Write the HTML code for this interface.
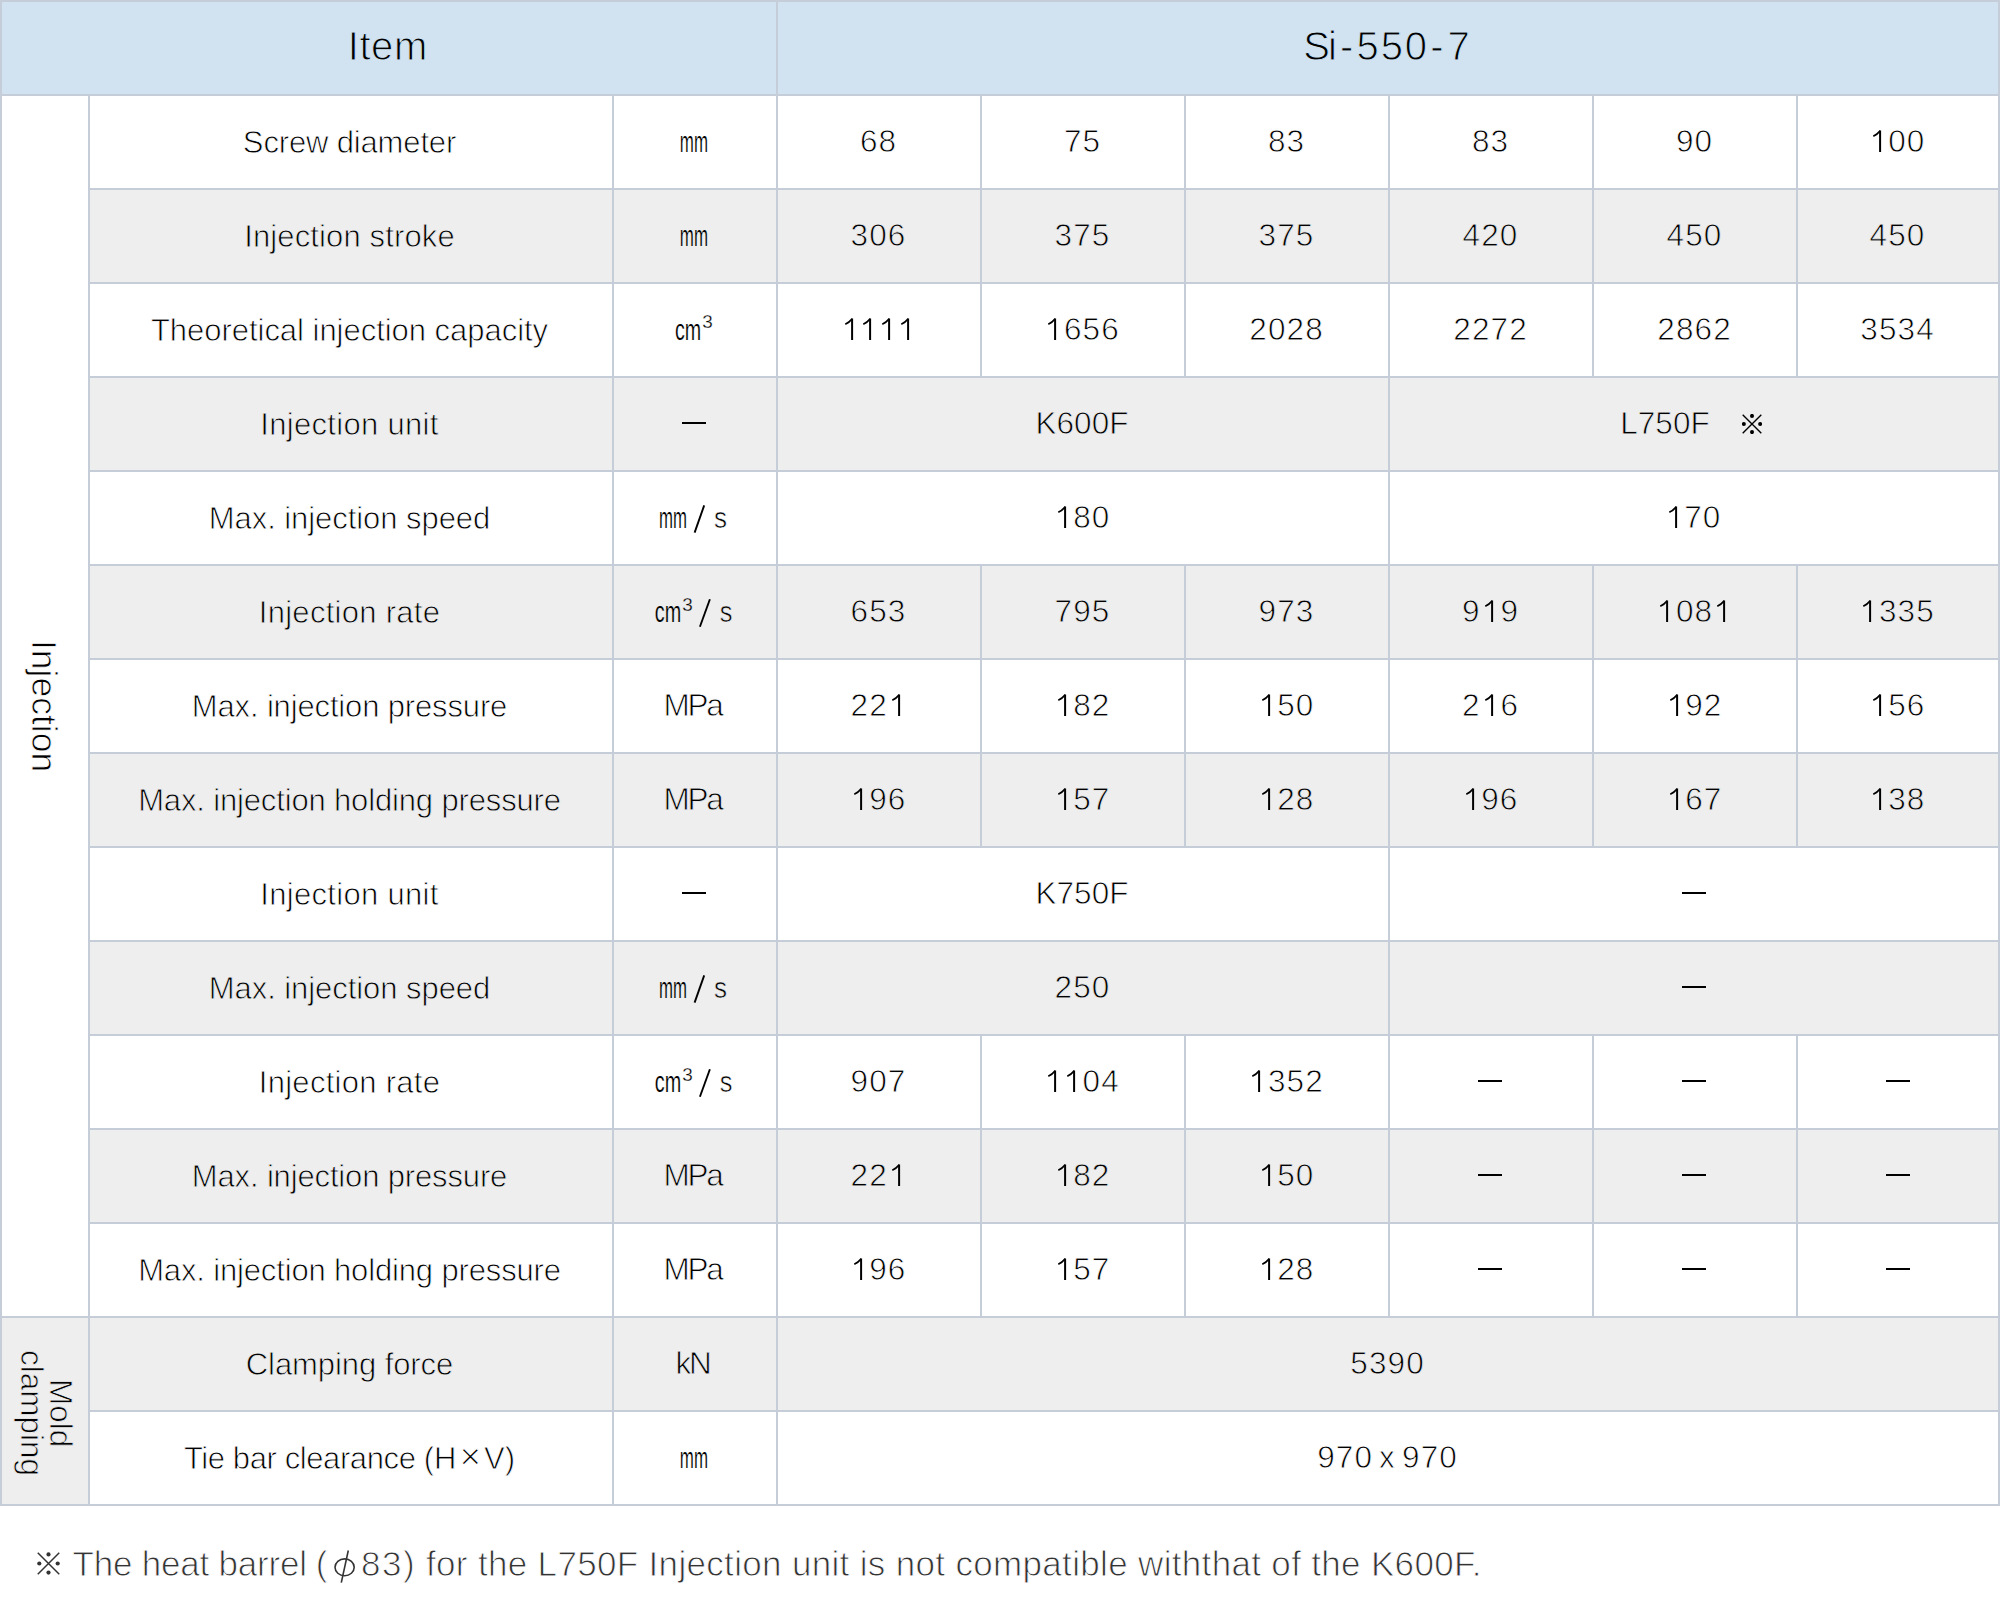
<!DOCTYPE html>
<html><head><meta charset="utf-8"><title>Si-550-7</title><style>
html,body{margin:0;padding:0}
body{width:2000px;height:1620px;background:#fff;position:relative;overflow:hidden;font-family:"Liberation Sans",sans-serif;color:#000}
.t{position:absolute;left:0;top:0;width:2000px;height:1506px;background:#c5ced8}
.c{position:absolute;display:flex;align-items:center;justify-content:center;font-size:30px;white-space:nowrap;line-height:1;box-sizing:border-box}
.bw{background:#ffffff;-webkit-text-stroke:0.8px #ffffff}
.bg{background:#eeeeee;-webkit-text-stroke:0.8px #eeeeee}
.bh{background:#d1e3f1;-webkit-text-stroke:1px #d1e3f1}
.h{font-size:40px;padding-bottom:5px}
.hs2{padding-right:3px}
.hi{letter-spacing:0.6px;text-indent:0.6px;padding-right:3px}
.nm{font-size:31px;letter-spacing:-0.2px;padding-right:3px}
.n{font-size:31.5px;letter-spacing:1.1px;text-indent:1.1px;padding-right:2px}
.k{font-size:31.5px;padding-right:2px}
.kl{padding-right:6px}
.ut{font-size:31.5px;letter-spacing:-2.2px;padding-right:5px}
.us{position:absolute;left:0;top:0}
.one{position:relative;color:transparent;-webkit-text-stroke:0;letter-spacing:0}
.o1{position:absolute;left:0;bottom:calc(0.212em - 1px)}
.dash{display:inline-block;width:24px;height:2px;background:#000;position:relative;top:-1px;left:-1px}
.d6 .dash{left:0}
.sp{display:inline-block;width:32px}
.kome{display:inline-block;vertical-align:-1px}
.v1{writing-mode:vertical-rl;font-size:35.5px;line-height:1;position:relative;left:-2px}
.v2{writing-mode:vertical-rl;font-size:31.5px;line-height:28.5px;text-align:center;padding-top:5px;position:relative;left:1px}
.x{margin:0 3px;font-size:37px;line-height:0;position:relative;top:0px;-webkit-text-stroke-width:1.1px}
.xx{margin:0 5px}
.fn{position:absolute;top:1546.1px;font-size:35px;color:#333;white-space:nowrap;line-height:1;-webkit-text-stroke:0.9px #fff}
.fk{position:absolute;left:36.5px;top:1552.1px}
</style></head><body>
<div class="t">
<div class="c bh h hi" style="left:2px;top:2px;width:774px;height:92px">Item</div>
<div class="c bh h hs2" style="left:778px;top:2px;width:1220px;height:92px"><span style="letter-spacing:-1.88px">S</span><span style="letter-spacing:2.89px">i</span><span style="letter-spacing:3.26px">-</span><span style="letter-spacing:2.0px">5</span><span style="letter-spacing:1.71px">5</span><span style="letter-spacing:3.22px">0</span><span style="letter-spacing:3.95px">-</span><span style="letter-spacing:0px">7</span></div>
<div class="c bw nm" style="left:90px;top:96px;width:522px;height:92px"><span style="letter-spacing:-0.15px">Screw diameter</span></div>
<div class="c bw u" style="left:614px;top:96px;width:162px;height:92px"><svg class="us" width="162" height="92" font-family="Liberation Sans"><text transform="translate(65.87,56.00) scale(0.5746,1)" font-size="29.5" stroke="#ffffff" stroke-width="0.2" vector-effect="non-scaling-stroke">mm</text></svg></div>
<div class="c bw n" style="left:778px;top:96px;width:202px;height:92px">68</div>
<div class="c bw n" style="left:982px;top:96px;width:202px;height:92px">75</div>
<div class="c bw n" style="left:1186px;top:96px;width:202px;height:92px">83</div>
<div class="c bw n" style="left:1390px;top:96px;width:202px;height:92px">83</div>
<div class="c bw n" style="left:1594px;top:96px;width:202px;height:92px">90</div>
<div class="c bw n d6" style="left:1798px;top:96px;width:200px;height:92px"><span class="one">1<svg class="o1" width="18" height="22" viewBox="0 0 18 22" fill="none" stroke="#000"><path d="M11.1 0.5V22" stroke-width="2"/><path d="M11.2 0.8C9.6 2.9 7.2 4.9 4.3 6.2" stroke-width="1.8"/></svg></span>00</div>
<div class="c bg nm" style="left:90px;top:190px;width:522px;height:92px"><span style="letter-spacing:0.13px">Injection stroke</span></div>
<div class="c bg u" style="left:614px;top:190px;width:162px;height:92px"><svg class="us" width="162" height="92" font-family="Liberation Sans"><text transform="translate(65.87,56.00) scale(0.5746,1)" font-size="29.5" stroke="#eeeeee" stroke-width="0.2" vector-effect="non-scaling-stroke">mm</text></svg></div>
<div class="c bg n" style="left:778px;top:190px;width:202px;height:92px">306</div>
<div class="c bg n" style="left:982px;top:190px;width:202px;height:92px">375</div>
<div class="c bg n" style="left:1186px;top:190px;width:202px;height:92px">375</div>
<div class="c bg n" style="left:1390px;top:190px;width:202px;height:92px">420</div>
<div class="c bg n" style="left:1594px;top:190px;width:202px;height:92px">450</div>
<div class="c bg n d6" style="left:1798px;top:190px;width:200px;height:92px">450</div>
<div class="c bw nm" style="left:90px;top:284px;width:522px;height:92px"><span style="letter-spacing:-0.03px">Theoretical injection capacity</span></div>
<div class="c bw u" style="left:614px;top:284px;width:162px;height:92px"><svg class="us" width="162" height="92" font-family="Liberation Sans"><text transform="translate(60.91,55.90) scale(0.6680,1)" font-size="29.5" stroke="#ffffff" stroke-width="0.2" vector-effect="non-scaling-stroke">cm</text><text transform="translate(88.18,44.40) scale(1.0000,1)" font-size="18.9" stroke="#ffffff" stroke-width="0.3">3</text></svg></div>
<div class="c bw n" style="left:778px;top:284px;width:202px;height:92px"><span class="one">1<svg class="o1" width="18" height="22" viewBox="0 0 18 22" fill="none" stroke="#000"><path d="M11.1 0.5V22" stroke-width="2"/><path d="M11.2 0.8C9.6 2.9 7.2 4.9 4.3 6.2" stroke-width="1.8"/></svg></span><span class="one">1<svg class="o1" width="18" height="22" viewBox="0 0 18 22" fill="none" stroke="#000"><path d="M11.1 0.5V22" stroke-width="2"/><path d="M11.2 0.8C9.6 2.9 7.2 4.9 4.3 6.2" stroke-width="1.8"/></svg></span><span class="one">1<svg class="o1" width="18" height="22" viewBox="0 0 18 22" fill="none" stroke="#000"><path d="M11.1 0.5V22" stroke-width="2"/><path d="M11.2 0.8C9.6 2.9 7.2 4.9 4.3 6.2" stroke-width="1.8"/></svg></span><span class="one">1<svg class="o1" width="18" height="22" viewBox="0 0 18 22" fill="none" stroke="#000"><path d="M11.1 0.5V22" stroke-width="2"/><path d="M11.2 0.8C9.6 2.9 7.2 4.9 4.3 6.2" stroke-width="1.8"/></svg></span></div>
<div class="c bw n" style="left:982px;top:284px;width:202px;height:92px"><span class="one">1<svg class="o1" width="18" height="22" viewBox="0 0 18 22" fill="none" stroke="#000"><path d="M11.1 0.5V22" stroke-width="2"/><path d="M11.2 0.8C9.6 2.9 7.2 4.9 4.3 6.2" stroke-width="1.8"/></svg></span>656</div>
<div class="c bw n" style="left:1186px;top:284px;width:202px;height:92px">2028</div>
<div class="c bw n" style="left:1390px;top:284px;width:202px;height:92px">2272</div>
<div class="c bw n" style="left:1594px;top:284px;width:202px;height:92px">2862</div>
<div class="c bw n d6" style="left:1798px;top:284px;width:200px;height:92px">3534</div>
<div class="c bg nm" style="left:90px;top:378px;width:522px;height:92px"><span style="letter-spacing:0.32px">Injection unit</span></div>
<div class="c bg u" style="left:614px;top:378px;width:162px;height:92px"><span class="dash"></span></div>
<div class="c bg k" style="left:778px;top:378px;width:610px;height:92px">K600F</div>
<div class="c bg k kl d6" style="left:1390px;top:378px;width:608px;height:92px">L750F<span class='sp'></span><svg class="kome" width="20" height="20" viewBox="0 0 20 20"><path d="M0.7 0.7L19.3 19.3M19.3 0.7L0.7 19.3" stroke="#000" stroke-width="1.4" fill="none"/><g fill="#000"><circle cx="10" cy="1.9" r="2"/><circle cx="10" cy="18.1" r="2"/><circle cx="1.9" cy="10" r="2"/><circle cx="18.1" cy="10" r="2"/></g></svg></div>
<div class="c bw nm" style="left:90px;top:472px;width:522px;height:92px"><span style="letter-spacing:-0.06px">Max. injection speed</span></div>
<div class="c bw u" style="left:614px;top:472px;width:162px;height:92px"><svg class="us" width="162" height="92" font-family="Liberation Sans"><text transform="translate(44.98,55.90) scale(0.5700,1)" font-size="29.5" stroke="#ffffff" stroke-width="0.2" vector-effect="non-scaling-stroke">mm</text><line x1="80.6" y1="60.6" x2="90.2" y2="33.4" stroke="#000" stroke-width="1.9"/><text transform="translate(99.97,55.70) scale(0.8860,1)" font-size="29.5" stroke="#ffffff" stroke-width="0.6">s</text></svg></div>
<div class="c bw n" style="left:778px;top:472px;width:610px;height:92px"><span class="one">1<svg class="o1" width="18" height="22" viewBox="0 0 18 22" fill="none" stroke="#000"><path d="M11.1 0.5V22" stroke-width="2"/><path d="M11.2 0.8C9.6 2.9 7.2 4.9 4.3 6.2" stroke-width="1.8"/></svg></span>80</div>
<div class="c bw n d6" style="left:1390px;top:472px;width:608px;height:92px"><span class="one">1<svg class="o1" width="18" height="22" viewBox="0 0 18 22" fill="none" stroke="#000"><path d="M11.1 0.5V22" stroke-width="2"/><path d="M11.2 0.8C9.6 2.9 7.2 4.9 4.3 6.2" stroke-width="1.8"/></svg></span>70</div>
<div class="c bg nm" style="left:90px;top:566px;width:522px;height:92px"><span style="letter-spacing:0.28px">Injection rate</span></div>
<div class="c bg u" style="left:614px;top:566px;width:162px;height:92px"><svg class="us" width="162" height="92" font-family="Liberation Sans"><text transform="translate(40.76,55.50) scale(0.6726,1)" font-size="29.5" stroke="#eeeeee" stroke-width="0.2" vector-effect="non-scaling-stroke">cm</text><text transform="translate(68.18,44.50) scale(1.0000,1)" font-size="18.9" stroke="#eeeeee" stroke-width="0.3">3</text><line x1="85.9" y1="60.8" x2="95.9" y2="33.2" stroke="#000" stroke-width="1.9"/><text transform="translate(105.68,55.70) scale(0.8620,1)" font-size="29.5" stroke="#eeeeee" stroke-width="0.6">s</text></svg></div>
<div class="c bg n" style="left:778px;top:566px;width:202px;height:92px">653</div>
<div class="c bg n" style="left:982px;top:566px;width:202px;height:92px">795</div>
<div class="c bg n" style="left:1186px;top:566px;width:202px;height:92px">973</div>
<div class="c bg n" style="left:1390px;top:566px;width:202px;height:92px">9<span class="one">1<svg class="o1" width="18" height="22" viewBox="0 0 18 22" fill="none" stroke="#000"><path d="M11.1 0.5V22" stroke-width="2"/><path d="M11.2 0.8C9.6 2.9 7.2 4.9 4.3 6.2" stroke-width="1.8"/></svg></span>9</div>
<div class="c bg n" style="left:1594px;top:566px;width:202px;height:92px"><span class="one">1<svg class="o1" width="18" height="22" viewBox="0 0 18 22" fill="none" stroke="#000"><path d="M11.1 0.5V22" stroke-width="2"/><path d="M11.2 0.8C9.6 2.9 7.2 4.9 4.3 6.2" stroke-width="1.8"/></svg></span>08<span class="one">1<svg class="o1" width="18" height="22" viewBox="0 0 18 22" fill="none" stroke="#000"><path d="M11.1 0.5V22" stroke-width="2"/><path d="M11.2 0.8C9.6 2.9 7.2 4.9 4.3 6.2" stroke-width="1.8"/></svg></span></div>
<div class="c bg n d6" style="left:1798px;top:566px;width:200px;height:92px"><span class="one">1<svg class="o1" width="18" height="22" viewBox="0 0 18 22" fill="none" stroke="#000"><path d="M11.1 0.5V22" stroke-width="2"/><path d="M11.2 0.8C9.6 2.9 7.2 4.9 4.3 6.2" stroke-width="1.8"/></svg></span>335</div>
<div class="c bw nm" style="left:90px;top:660px;width:522px;height:92px"><span style="letter-spacing:-0.15px">Max. injection pressure</span></div>
<div class="c bw u ut" style="left:614px;top:660px;width:162px;height:92px">MPa</div>
<div class="c bw n" style="left:778px;top:660px;width:202px;height:92px">22<span class="one">1<svg class="o1" width="18" height="22" viewBox="0 0 18 22" fill="none" stroke="#000"><path d="M11.1 0.5V22" stroke-width="2"/><path d="M11.2 0.8C9.6 2.9 7.2 4.9 4.3 6.2" stroke-width="1.8"/></svg></span></div>
<div class="c bw n" style="left:982px;top:660px;width:202px;height:92px"><span class="one">1<svg class="o1" width="18" height="22" viewBox="0 0 18 22" fill="none" stroke="#000"><path d="M11.1 0.5V22" stroke-width="2"/><path d="M11.2 0.8C9.6 2.9 7.2 4.9 4.3 6.2" stroke-width="1.8"/></svg></span>82</div>
<div class="c bw n" style="left:1186px;top:660px;width:202px;height:92px"><span class="one">1<svg class="o1" width="18" height="22" viewBox="0 0 18 22" fill="none" stroke="#000"><path d="M11.1 0.5V22" stroke-width="2"/><path d="M11.2 0.8C9.6 2.9 7.2 4.9 4.3 6.2" stroke-width="1.8"/></svg></span>50</div>
<div class="c bw n" style="left:1390px;top:660px;width:202px;height:92px">2<span class="one">1<svg class="o1" width="18" height="22" viewBox="0 0 18 22" fill="none" stroke="#000"><path d="M11.1 0.5V22" stroke-width="2"/><path d="M11.2 0.8C9.6 2.9 7.2 4.9 4.3 6.2" stroke-width="1.8"/></svg></span>6</div>
<div class="c bw n" style="left:1594px;top:660px;width:202px;height:92px"><span class="one">1<svg class="o1" width="18" height="22" viewBox="0 0 18 22" fill="none" stroke="#000"><path d="M11.1 0.5V22" stroke-width="2"/><path d="M11.2 0.8C9.6 2.9 7.2 4.9 4.3 6.2" stroke-width="1.8"/></svg></span>92</div>
<div class="c bw n d6" style="left:1798px;top:660px;width:200px;height:92px"><span class="one">1<svg class="o1" width="18" height="22" viewBox="0 0 18 22" fill="none" stroke="#000"><path d="M11.1 0.5V22" stroke-width="2"/><path d="M11.2 0.8C9.6 2.9 7.2 4.9 4.3 6.2" stroke-width="1.8"/></svg></span>56</div>
<div class="c bg nm" style="left:90px;top:754px;width:522px;height:92px"><span style="letter-spacing:-0.15px">Max. injection holding pressure</span></div>
<div class="c bg u ut" style="left:614px;top:754px;width:162px;height:92px">MPa</div>
<div class="c bg n" style="left:778px;top:754px;width:202px;height:92px"><span class="one">1<svg class="o1" width="18" height="22" viewBox="0 0 18 22" fill="none" stroke="#000"><path d="M11.1 0.5V22" stroke-width="2"/><path d="M11.2 0.8C9.6 2.9 7.2 4.9 4.3 6.2" stroke-width="1.8"/></svg></span>96</div>
<div class="c bg n" style="left:982px;top:754px;width:202px;height:92px"><span class="one">1<svg class="o1" width="18" height="22" viewBox="0 0 18 22" fill="none" stroke="#000"><path d="M11.1 0.5V22" stroke-width="2"/><path d="M11.2 0.8C9.6 2.9 7.2 4.9 4.3 6.2" stroke-width="1.8"/></svg></span>57</div>
<div class="c bg n" style="left:1186px;top:754px;width:202px;height:92px"><span class="one">1<svg class="o1" width="18" height="22" viewBox="0 0 18 22" fill="none" stroke="#000"><path d="M11.1 0.5V22" stroke-width="2"/><path d="M11.2 0.8C9.6 2.9 7.2 4.9 4.3 6.2" stroke-width="1.8"/></svg></span>28</div>
<div class="c bg n" style="left:1390px;top:754px;width:202px;height:92px"><span class="one">1<svg class="o1" width="18" height="22" viewBox="0 0 18 22" fill="none" stroke="#000"><path d="M11.1 0.5V22" stroke-width="2"/><path d="M11.2 0.8C9.6 2.9 7.2 4.9 4.3 6.2" stroke-width="1.8"/></svg></span>96</div>
<div class="c bg n" style="left:1594px;top:754px;width:202px;height:92px"><span class="one">1<svg class="o1" width="18" height="22" viewBox="0 0 18 22" fill="none" stroke="#000"><path d="M11.1 0.5V22" stroke-width="2"/><path d="M11.2 0.8C9.6 2.9 7.2 4.9 4.3 6.2" stroke-width="1.8"/></svg></span>67</div>
<div class="c bg n d6" style="left:1798px;top:754px;width:200px;height:92px"><span class="one">1<svg class="o1" width="18" height="22" viewBox="0 0 18 22" fill="none" stroke="#000"><path d="M11.1 0.5V22" stroke-width="2"/><path d="M11.2 0.8C9.6 2.9 7.2 4.9 4.3 6.2" stroke-width="1.8"/></svg></span>38</div>
<div class="c bw nm" style="left:90px;top:848px;width:522px;height:92px"><span style="letter-spacing:0.32px">Injection unit</span></div>
<div class="c bw u" style="left:614px;top:848px;width:162px;height:92px"><span class="dash"></span></div>
<div class="c bw k" style="left:778px;top:848px;width:610px;height:92px">K750F</div>
<div class="c bw  d6" style="left:1390px;top:848px;width:608px;height:92px"><span class="dash"></span></div>
<div class="c bg nm" style="left:90px;top:942px;width:522px;height:92px"><span style="letter-spacing:-0.06px">Max. injection speed</span></div>
<div class="c bg u" style="left:614px;top:942px;width:162px;height:92px"><svg class="us" width="162" height="92" font-family="Liberation Sans"><text transform="translate(44.98,55.90) scale(0.5700,1)" font-size="29.5" stroke="#eeeeee" stroke-width="0.2" vector-effect="non-scaling-stroke">mm</text><line x1="80.6" y1="60.6" x2="90.2" y2="33.4" stroke="#000" stroke-width="1.9"/><text transform="translate(99.97,55.70) scale(0.8860,1)" font-size="29.5" stroke="#eeeeee" stroke-width="0.6">s</text></svg></div>
<div class="c bg n" style="left:778px;top:942px;width:610px;height:92px">250</div>
<div class="c bg  d6" style="left:1390px;top:942px;width:608px;height:92px"><span class="dash"></span></div>
<div class="c bw nm" style="left:90px;top:1036px;width:522px;height:92px"><span style="letter-spacing:0.28px">Injection rate</span></div>
<div class="c bw u" style="left:614px;top:1036px;width:162px;height:92px"><svg class="us" width="162" height="92" font-family="Liberation Sans"><text transform="translate(40.76,55.50) scale(0.6726,1)" font-size="29.5" stroke="#ffffff" stroke-width="0.2" vector-effect="non-scaling-stroke">cm</text><text transform="translate(68.18,44.50) scale(1.0000,1)" font-size="18.9" stroke="#ffffff" stroke-width="0.3">3</text><line x1="85.9" y1="60.8" x2="95.9" y2="33.2" stroke="#000" stroke-width="1.9"/><text transform="translate(105.68,55.70) scale(0.8620,1)" font-size="29.5" stroke="#ffffff" stroke-width="0.6">s</text></svg></div>
<div class="c bw n" style="left:778px;top:1036px;width:202px;height:92px">907</div>
<div class="c bw n" style="left:982px;top:1036px;width:202px;height:92px"><span class="one">1<svg class="o1" width="18" height="22" viewBox="0 0 18 22" fill="none" stroke="#000"><path d="M11.1 0.5V22" stroke-width="2"/><path d="M11.2 0.8C9.6 2.9 7.2 4.9 4.3 6.2" stroke-width="1.8"/></svg></span><span class="one">1<svg class="o1" width="18" height="22" viewBox="0 0 18 22" fill="none" stroke="#000"><path d="M11.1 0.5V22" stroke-width="2"/><path d="M11.2 0.8C9.6 2.9 7.2 4.9 4.3 6.2" stroke-width="1.8"/></svg></span>04</div>
<div class="c bw n" style="left:1186px;top:1036px;width:202px;height:92px"><span class="one">1<svg class="o1" width="18" height="22" viewBox="0 0 18 22" fill="none" stroke="#000"><path d="M11.1 0.5V22" stroke-width="2"/><path d="M11.2 0.8C9.6 2.9 7.2 4.9 4.3 6.2" stroke-width="1.8"/></svg></span>352</div>
<div class="c bw " style="left:1390px;top:1036px;width:202px;height:92px"><span class="dash"></span></div>
<div class="c bw " style="left:1594px;top:1036px;width:202px;height:92px"><span class="dash"></span></div>
<div class="c bw  d6" style="left:1798px;top:1036px;width:200px;height:92px"><span class="dash"></span></div>
<div class="c bg nm" style="left:90px;top:1130px;width:522px;height:92px"><span style="letter-spacing:-0.15px">Max. injection pressure</span></div>
<div class="c bg u ut" style="left:614px;top:1130px;width:162px;height:92px">MPa</div>
<div class="c bg n" style="left:778px;top:1130px;width:202px;height:92px">22<span class="one">1<svg class="o1" width="18" height="22" viewBox="0 0 18 22" fill="none" stroke="#000"><path d="M11.1 0.5V22" stroke-width="2"/><path d="M11.2 0.8C9.6 2.9 7.2 4.9 4.3 6.2" stroke-width="1.8"/></svg></span></div>
<div class="c bg n" style="left:982px;top:1130px;width:202px;height:92px"><span class="one">1<svg class="o1" width="18" height="22" viewBox="0 0 18 22" fill="none" stroke="#000"><path d="M11.1 0.5V22" stroke-width="2"/><path d="M11.2 0.8C9.6 2.9 7.2 4.9 4.3 6.2" stroke-width="1.8"/></svg></span>82</div>
<div class="c bg n" style="left:1186px;top:1130px;width:202px;height:92px"><span class="one">1<svg class="o1" width="18" height="22" viewBox="0 0 18 22" fill="none" stroke="#000"><path d="M11.1 0.5V22" stroke-width="2"/><path d="M11.2 0.8C9.6 2.9 7.2 4.9 4.3 6.2" stroke-width="1.8"/></svg></span>50</div>
<div class="c bg " style="left:1390px;top:1130px;width:202px;height:92px"><span class="dash"></span></div>
<div class="c bg " style="left:1594px;top:1130px;width:202px;height:92px"><span class="dash"></span></div>
<div class="c bg  d6" style="left:1798px;top:1130px;width:200px;height:92px"><span class="dash"></span></div>
<div class="c bw nm" style="left:90px;top:1224px;width:522px;height:92px"><span style="letter-spacing:-0.15px">Max. injection holding pressure</span></div>
<div class="c bw u ut" style="left:614px;top:1224px;width:162px;height:92px">MPa</div>
<div class="c bw n" style="left:778px;top:1224px;width:202px;height:92px"><span class="one">1<svg class="o1" width="18" height="22" viewBox="0 0 18 22" fill="none" stroke="#000"><path d="M11.1 0.5V22" stroke-width="2"/><path d="M11.2 0.8C9.6 2.9 7.2 4.9 4.3 6.2" stroke-width="1.8"/></svg></span>96</div>
<div class="c bw n" style="left:982px;top:1224px;width:202px;height:92px"><span class="one">1<svg class="o1" width="18" height="22" viewBox="0 0 18 22" fill="none" stroke="#000"><path d="M11.1 0.5V22" stroke-width="2"/><path d="M11.2 0.8C9.6 2.9 7.2 4.9 4.3 6.2" stroke-width="1.8"/></svg></span>57</div>
<div class="c bw n" style="left:1186px;top:1224px;width:202px;height:92px"><span class="one">1<svg class="o1" width="18" height="22" viewBox="0 0 18 22" fill="none" stroke="#000"><path d="M11.1 0.5V22" stroke-width="2"/><path d="M11.2 0.8C9.6 2.9 7.2 4.9 4.3 6.2" stroke-width="1.8"/></svg></span>28</div>
<div class="c bw " style="left:1390px;top:1224px;width:202px;height:92px"><span class="dash"></span></div>
<div class="c bw " style="left:1594px;top:1224px;width:202px;height:92px"><span class="dash"></span></div>
<div class="c bw  d6" style="left:1798px;top:1224px;width:200px;height:92px"><span class="dash"></span></div>
<div class="c bg nm" style="left:90px;top:1318px;width:522px;height:92px"><span style="letter-spacing:-0.08px">Clamping force</span></div>
<div class="c bg u ut" style="left:614px;top:1318px;width:162px;height:92px">kN</div>
<div class="c bg n d6" style="left:778px;top:1318px;width:1220px;height:92px">5390</div>
<div class="c bw nm" style="left:90px;top:1412px;width:522px;height:92px"><span style="letter-spacing:-0.4px">Tie bar clearance <span style='letter-spacing:0'>(H<span class='x'>×</span>V)</span></span></div>
<div class="c bw u" style="left:614px;top:1412px;width:162px;height:92px"><svg class="us" width="162" height="92" font-family="Liberation Sans"><text transform="translate(65.87,56.00) scale(0.5746,1)" font-size="29.5" stroke="#ffffff" stroke-width="0.2" vector-effect="non-scaling-stroke">mm</text></svg></div>
<div class="c bw n d6" style="left:778px;top:1412px;width:1220px;height:92px">970<span class='xx'>x</span>970</div>
<div class="c bw " style="left:2px;top:96px;width:86px;height:1220px"><div class="v1">Injection</div></div>
<div class="c bg " style="left:2px;top:1318px;width:86px;height:186px"><div class="v2">Mold<br>clamping</div></div>
</div>
<svg class="fk" width="23" height="23" viewBox="0 0 23 23"><path d="M0.75 0.75L22.25 22.25M22.25 0.75L0.75 22.25" stroke="#333" stroke-width="1.5" fill="none"/><g fill="#333"><circle cx="11.5" cy="2.4" r="2.1"/><circle cx="11.5" cy="20.6" r="2.1"/><circle cx="2.3" cy="11.5" r="2.1"/><circle cx="20.7" cy="11.5" r="2.1"/></g></svg><div class="fn" style="left:72.5px;letter-spacing:-0.2px">The heat barrel</div><div class="fn" style="left:315.8px">(</div><svg style="position:absolute;left:330px;top:1548px" width="30" height="38"><ellipse cx="14.6" cy="19.3" rx="9.6" ry="8.4" stroke="#333" stroke-width="1.6" fill="none"/><line x1="18.3" y1="2.5" x2="11.3" y2="34.7" stroke="#333" stroke-width="1.6"/></svg><div class="fn" style="left:361px;letter-spacing:1.5px">83)</div><div class="fn" style="left:426px;letter-spacing:0.33px">for the L750F Injection unit is not compatible withthat of the K600F.</div>
</body></html>
